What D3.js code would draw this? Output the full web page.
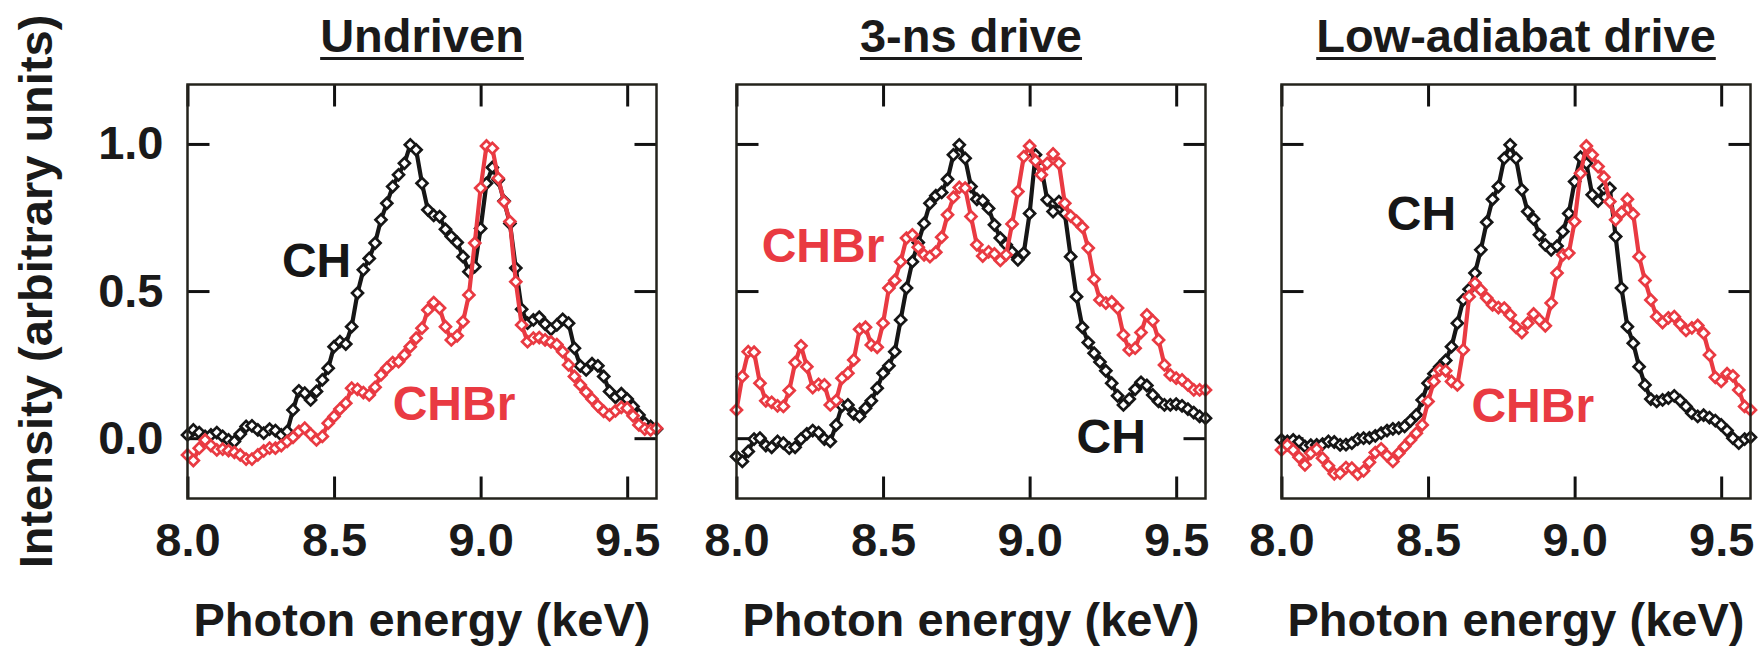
<!DOCTYPE html>
<html>
<head>
<meta charset="utf-8">
<script src="https://cdn.jsdelivr.net/npm/d3@7"></script>
<style>
  html, body { margin: 0; padding: 0; background: #fff; }
  svg text { font-family: "Liberation Sans", Arial, Helvetica, sans-serif; font-weight: bold; fill: #1a1a1a; }
</style>
</head>
<body>
<svg id="chart" width="1763" height="646"></svg>
<script>
// photon energy grid (keV), shared by every spectrum
const energy = [
  8.00, 8.02, 8.04, 8.06, 8.08, 8.10, 8.12, 8.14, 8.16, 8.18,
  8.20, 8.22, 8.24, 8.26, 8.28, 8.30, 8.32, 8.34, 8.36, 8.38,
  8.40, 8.42, 8.44, 8.46, 8.48, 8.50, 8.52, 8.54, 8.56, 8.58,
  8.60, 8.62, 8.64, 8.66, 8.68, 8.70, 8.72, 8.74, 8.76, 8.78,
  8.80, 8.82, 8.84, 8.86, 8.88, 8.90, 8.92, 8.94, 8.96, 8.98,
  9.00, 9.02, 9.04, 9.06, 9.08, 9.10, 9.12, 9.14, 9.16, 9.18,
  9.20, 9.22, 9.24, 9.26, 9.28, 9.30, 9.32, 9.34, 9.36, 9.38,
  9.40, 9.42, 9.44, 9.46, 9.48, 9.50, 9.52, 9.54, 9.56, 9.58,
  9.60
];

const undrivenCH = [
  0.011, 0.028, 0.019, 0.006, 0.011, 0.019, 0.006, -0.006, -0.011, 0.014,
  0.040, 0.042, 0.028, 0.017, 0.031, 0.026, 0.011, 0.023, 0.096, 0.161,
  0.153, 0.130, 0.159, 0.198, 0.238, 0.311, 0.328, 0.320, 0.379, 0.493,
  0.572, 0.611, 0.663, 0.742, 0.798, 0.855, 0.895, 0.934, 0.997, 0.980,
  0.866, 0.776, 0.757, 0.753, 0.710, 0.685, 0.665, 0.617, 0.566, 0.583,
  0.713, 0.866, 0.920, 0.878, 0.806, 0.730, 0.578, 0.438, 0.391, 0.402,
  0.411, 0.388, 0.370, 0.385, 0.404, 0.391, 0.306, 0.246, 0.232, 0.253,
  0.246, 0.210, 0.159, 0.139, 0.151, 0.133, 0.108, 0.079, 0.051, 0.040,
  0.031
];
const undrivenCHBr = [
  -0.057, -0.076, -0.034, -0.006, -0.025, -0.040, -0.037, -0.042, -0.048, -0.057,
  -0.071, -0.071, -0.057, -0.043, -0.034, -0.034, -0.025, -0.011, 0.003, 0.023,
  0.034, 0.014, -0.006, 0.006, 0.051, 0.074, 0.099, 0.119, 0.170, 0.166,
  0.155, 0.147, 0.173, 0.215, 0.238, 0.257, 0.260, 0.283, 0.311, 0.340,
  0.374, 0.436, 0.461, 0.442, 0.379, 0.334, 0.348, 0.396, 0.487, 0.663,
  0.850, 0.993, 0.985, 0.883, 0.804, 0.736, 0.532, 0.385, 0.328, 0.340,
  0.342, 0.334, 0.327, 0.318, 0.294, 0.249, 0.210, 0.181, 0.156, 0.133,
  0.110, 0.091, 0.079, 0.093, 0.105, 0.102, 0.076, 0.045, 0.031, 0.028,
  0.034
];
const threeNsCH = [
  -0.062, -0.079, -0.045, -0.003, 0.000, -0.025, -0.031, -0.011, -0.017, -0.034,
  -0.031, -0.003, 0.015, 0.026, 0.019, -0.003, -0.011, 0.045, 0.110, 0.113,
  0.083, 0.074, 0.102, 0.127, 0.170, 0.221, 0.246, 0.294, 0.402, 0.510,
  0.600, 0.665, 0.730, 0.798, 0.824, 0.835, 0.880, 0.963, 0.997, 0.951,
  0.855, 0.812, 0.807, 0.781, 0.725, 0.680, 0.657, 0.633, 0.606, 0.629,
  0.764, 0.963, 0.920, 0.810, 0.770, 0.804, 0.764, 0.617, 0.481, 0.377,
  0.325, 0.289, 0.259, 0.229, 0.187, 0.144, 0.113, 0.133, 0.166, 0.190,
  0.179, 0.147, 0.125, 0.113, 0.113, 0.116, 0.110, 0.099, 0.087, 0.074,
  0.068
];
const threeNsCHBr = [
  0.096, 0.210, 0.294, 0.292, 0.187, 0.127, 0.122, 0.110, 0.108, 0.162,
  0.257, 0.314, 0.243, 0.172, 0.183, 0.181, 0.113, 0.128, 0.204, 0.221,
  0.266, 0.370, 0.377, 0.317, 0.309, 0.391, 0.510, 0.536, 0.600, 0.680,
  0.691, 0.649, 0.623, 0.617, 0.632, 0.683, 0.759, 0.819, 0.852, 0.850,
  0.753, 0.657, 0.619, 0.633, 0.626, 0.604, 0.623, 0.728, 0.838, 0.957,
  0.993, 0.943, 0.895, 0.934, 0.966, 0.934, 0.798, 0.755, 0.738, 0.717,
  0.646, 0.540, 0.470, 0.459, 0.463, 0.442, 0.351, 0.300, 0.306, 0.359,
  0.419, 0.399, 0.334, 0.249, 0.215, 0.204, 0.198, 0.181, 0.164, 0.164,
  0.164
];
const lowAdiabatCH = [
  -0.006, -0.011, -0.006, -0.012, -0.028, -0.024, -0.023, -0.020, -0.011, -0.013,
  -0.023, -0.022, -0.017, -0.003, 0.000, 0.001, 0.008, 0.017, 0.026, 0.032,
  0.034, 0.040, 0.059, 0.079, 0.130, 0.187, 0.219, 0.243, 0.264, 0.311,
  0.391, 0.470, 0.506, 0.561, 0.640, 0.734, 0.812, 0.855, 0.951, 0.997,
  0.951, 0.844, 0.770, 0.745, 0.691, 0.657, 0.640, 0.653, 0.702, 0.764,
  0.872, 0.955, 0.934, 0.827, 0.806, 0.849, 0.849, 0.685, 0.510, 0.379,
  0.323, 0.243, 0.181, 0.133, 0.125, 0.130, 0.136, 0.144, 0.128, 0.108,
  0.085, 0.074, 0.078, 0.070, 0.060, 0.045, 0.026, 0.000, -0.017, -0.003,
  0.003
];
const lowAdiabatCHBr = [
  -0.040, -0.023, -0.040, -0.065, -0.091, -0.051, -0.037, -0.068, -0.094, -0.121,
  -0.119, -0.100, -0.102, -0.122, -0.111, -0.082, -0.049, -0.036, -0.059, -0.079,
  -0.051, -0.028, -0.006, 0.017, 0.045, 0.125, 0.193, 0.232, 0.229, 0.193,
  0.181, 0.300, 0.481, 0.527, 0.504, 0.476, 0.453, 0.444, 0.442, 0.419,
  0.377, 0.359, 0.391, 0.422, 0.402, 0.382, 0.459, 0.561, 0.623, 0.629,
  0.736, 0.900, 0.993, 0.963, 0.923, 0.887, 0.804, 0.742, 0.767, 0.812,
  0.761, 0.617, 0.536, 0.470, 0.413, 0.393, 0.409, 0.413, 0.388, 0.366,
  0.375, 0.383, 0.357, 0.283, 0.207, 0.193, 0.219, 0.212, 0.164, 0.108,
  0.096
];

const panelTitles = ['Undriven', '3-ns drive', 'Low-adiabat drive'];
const seriesNames = ['CH', 'CHBr'];
const xTicks = [8.0, 8.5, 9.0, 9.5];
const yTicks = [0.0, 0.5, 1.0];
const xLabel = 'Photon energy (keV)';
const yLabel = 'Intensity (arbitrary units)';

// where the CH / CHBr names sit in each panel, in data units (keV, intensity)
const chLabelAt = [[8.322, 0.548], [9.16, -0.05], [8.359, 0.708]];
const chbrLabelAt = [[8.70, 0.062], [8.086, 0.599], [8.648, 0.055]];

const panels = [
  { title: panelTitles[0], series: [undrivenCH, undrivenCHBr] },
  { title: panelTitles[1], series: [threeNsCH, threeNsCHBr] },
  { title: panelTitles[2], series: [lowAdiabatCH, lowAdiabatCHBr] },
].map((p, i) => Object.assign(p, { labels: [chLabelAt[i], chbrLabelAt[i]] }));

const colors = ['#161616', '#e93a42'];
const frameColor = '#24231c';
const lefts = [187.5, 736.5, 1281.5];
const plotW = 469;
const plotTop = 84.5;
const plotBottom = 498.5;
const tickLen = 22;
const fontSize = 47;

const svg = d3.select('#chart');
const y = d3.scaleLinear().domain([-0.205, 1.202]).range([plotBottom, plotTop]);

function styleAxis(g, showText) {
  g.select('.domain').remove();
  g.selectAll('.tick line').attr('stroke', '#111').attr('stroke-width', 3);
  g.attr('font-size', null).attr('font-family', null);
  g.selectAll('.tick text')
    .style('font-size', `${fontSize}px`)
    .attr('fill', '#1a1a1a');
  if (!showText) g.selectAll('.tick text').remove();
}

panels.forEach((panel, i) => {
  const left = lefts[i];
  const x = d3.scaleLinear().domain([8.0, 9.6]).range([left, left + plotW]);
  const g = svg.append('g').attr('class', 'panel');
  const cx = left + plotW / 2;

  // title with underline
  const title = g.append('text')
    .attr('x', cx).attr('y', 51.5)
    .attr('text-anchor', 'middle')
    .style('font-size', `${fontSize}px`)
    .text(panel.title);
  const tw = title.node().getComputedTextLength();
  g.append('line')
    .attr('x1', cx - tw / 2).attr('x2', cx + tw / 2)
    .attr('y1', 58.5).attr('y2', 58.5)
    .attr('stroke', '#1a1a1a').attr('stroke-width', 3);

  // axes: ticks point inward on all four sides
  g.append('g').attr('transform', `translate(0,${plotBottom})`)
    .call(d3.axisBottom(x).tickValues(xTicks).tickSize(-tickLen).tickSizeOuter(0)
      .tickPadding(24).tickFormat(d3.format('.1f')))
    .call((a) => styleAxis(a, true));
  g.append('g').attr('transform', `translate(0,${plotTop})`)
    .call(d3.axisTop(x).tickValues(xTicks).tickSize(-tickLen).tickSizeOuter(0))
    .call((a) => styleAxis(a, false));
  g.append('g').attr('transform', `translate(${left},0)`)
    .call(d3.axisLeft(y).tickValues(yTicks).tickSize(-tickLen).tickSizeOuter(0)
      .tickPadding(24).tickFormat(d3.format('.1f')))
    .call((a) => styleAxis(a, i === 0));
  g.append('g').attr('transform', `translate(${left + plotW},0)`)
    .call(d3.axisRight(y).tickValues(yTicks).tickSize(-tickLen).tickSizeOuter(0))
    .call((a) => styleAxis(a, false));

  // spectra
  const line = d3.line().x((d, j) => x(energy[j])).y((d) => y(d));
  const marker = d3.symbol(d3.symbolSquare, 60);
  panel.series.forEach((values, s) => {
    const sg = g.append('g').attr('class', `series-${seriesNames[s]}`);
    sg.append('path')
      .datum(values)
      .attr('d', line)
      .attr('fill', 'none')
      .attr('stroke', colors[s])
      .attr('stroke-width', 4.2)
      .attr('stroke-linejoin', 'round');
    sg.selectAll('.pt')
      .data(values)
      .join('path')
      .attr('class', 'pt')
      .attr('d', marker)
      .attr('transform', (d, j) => `translate(${x(energy[j])},${y(d)}) rotate(45)`)
      .attr('fill', 'white')
      .attr('stroke', colors[s])
      .attr('stroke-width', 2.7);
  });

  // series names
  panel.labels.forEach(([ex, ey], s) => {
    g.append('text')
      .attr('x', x(ex)).attr('y', y(ey))
      .style('font-size', '48px')
      .style('fill', colors[s])
      .text(seriesNames[s]);
  });

  // frame
  g.append('rect')
    .attr('x', left).attr('y', plotTop)
    .attr('width', plotW).attr('height', plotBottom - plotTop)
    .attr('fill', 'none')
    .attr('stroke', frameColor)
    .attr('stroke-width', 2.5);

  // x-axis title
  g.append('text')
    .attr('x', cx).attr('y', 636)
    .attr('text-anchor', 'middle')
    .style('font-size', `${fontSize}px`)
    .text(xLabel);
});

// shared y-axis title
svg.append('text')
  .attr('transform', `translate(52,${(plotTop + plotBottom) / 2}) rotate(-90)`)
  .attr('text-anchor', 'middle')
  .style('font-size', `${fontSize}px`)
  .text(yLabel);
</script>
</body>
</html>
